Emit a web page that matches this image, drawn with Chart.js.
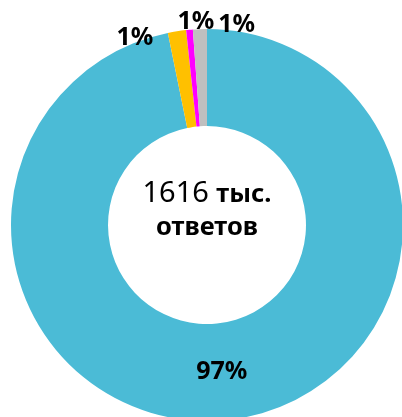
<!DOCTYPE html>
<html>
<head>
<meta charset="utf-8">
<script src="https://cdn.jsdelivr.net/npm/chart.js@4.4.1/dist/chart.umd.min.js"></script>
<style>
  html, body { margin: 0; padding: 0; background: #fff; overflow: hidden; }
  #wrap { position: absolute; left: 0; top: 0; width: 414px; height: 450px; }
</style>
</head>
<body>
<div id="wrap"><canvas id="donut"></canvas></div>
<script>
// данные
const categories = ['Группа 1', 'Группа 2', 'Группа 3', 'Группа 4'];
const shares = [96.8, 1.5, 0.55, 1.15];          // доли, %
const shareLabels = ['97%', '1%', '1%', '1%'];
const centerNumber = '1616';
const centerUnit = 'тыс.';
const centerWord = 'ответов';

const colors = ['#4BBBD6', '#FFC000', '#FF00FF', '#BFBFBF'];
const FONT = '"Noto Sans", "Open Sans", sans-serif';

// смещение подписей маленьких секторов (градусы от середины сектора, отступ от края)
const labelShift = [null, [-12.2, 5], [2.0, 7], [10.5, 6]];

const sliceLabels = {
  id: 'sliceLabels',
  afterDatasetsDraw(chart) {
    const ctx = chart.ctx;
    const arcs = chart.getDatasetMeta(0).data;
    ctx.save();
    ctx.fillStyle = '#000';
    ctx.font = 'bold 25px ' + FONT;
    ctx.textAlign = 'center';
    ctx.textBaseline = 'middle';
    arcs.forEach((arc, i) => {
      const p = arc.getProps(['x', 'y', 'startAngle', 'endAngle', 'innerRadius', 'outerRadius'], true);
      let a = (p.startAngle + p.endAngle) / 2;
      let r = (p.innerRadius + p.outerRadius) / 2;
      if (labelShift[i]) {
        a += labelShift[i][0] * Math.PI / 180;
        r = p.outerRadius + labelShift[i][1];
      }
      ctx.fillText(shareLabels[i], p.x + Math.cos(a) * r, p.y + Math.sin(a) * r);
    });
    ctx.restore();
  }
};

const centerText = {
  id: 'centerText',
  afterDraw(chart) {
    const ctx = chart.ctx;
    const arc = chart.getDatasetMeta(0).data[0];
    const cx = arc.x, cy = arc.y;
    ctx.save();
    ctx.fillStyle = '#000';
    ctx.textBaseline = 'alphabetic';
    const f1 = '29px ' + FONT, f2 = 'bold 25.5px ' + FONT;
    ctx.font = f1;
    const w1 = ctx.measureText(centerNumber + ' ').width;
    ctx.font = f2;
    const w2 = ctx.measureText(centerUnit).width;
    let x = cx - (w1 + w2) / 2;
    ctx.textAlign = 'left';
    ctx.font = f1;
    ctx.fillText(centerNumber, x, cy - 23);
    ctx.font = f2;
    ctx.fillText(centerUnit, x + w1, cy - 23);
    ctx.textAlign = 'center';
    ctx.fillText(centerWord, cx, cy + 10);
    ctx.restore();
  }
};

new Chart(document.getElementById('donut'), {
  type: 'doughnut',
  data: {
    labels: categories,
    datasets: [{
      data: shares,
      backgroundColor: colors,
      borderWidth: 0
    }]
  },
  options: {
    responsive: true,
    maintainAspectRatio: false,
    animation: false,
    cutout: '50.5%',
    rotation: 0,
    layout: { padding: { left: 11, right: 11, top: 29, bottom: 29 } },
    plugins: {
      legend: { display: false },
      tooltip: { enabled: false }
    }
  },
  plugins: [sliceLabels, centerText]
});
</script>
</body>
</html>
